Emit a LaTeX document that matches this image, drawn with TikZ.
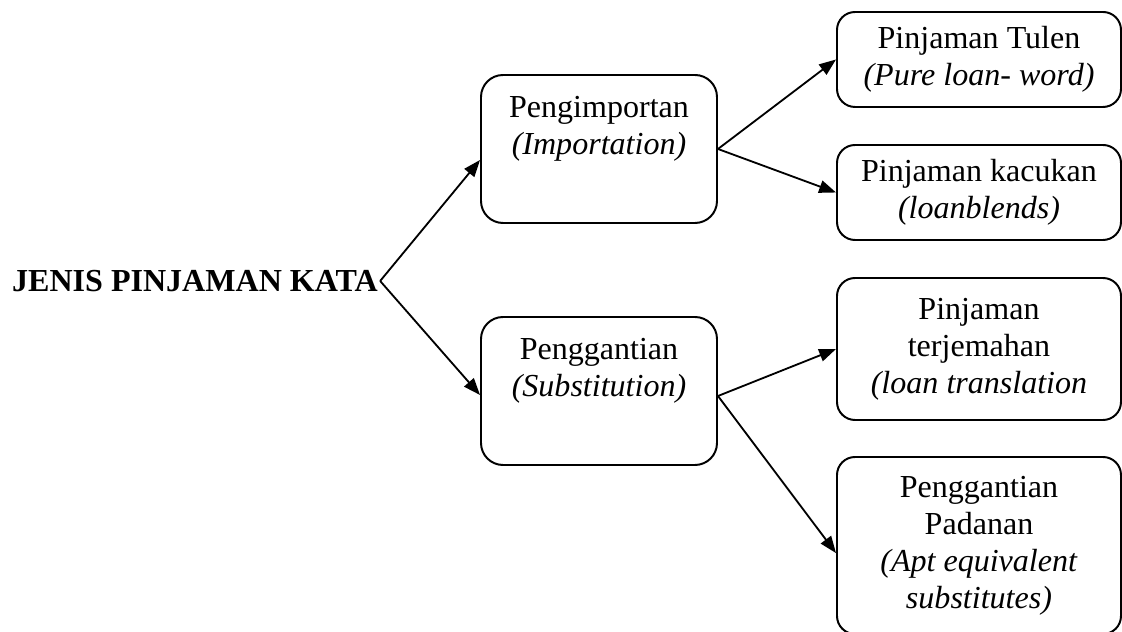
\documentclass[tikz,border=0pt]{standalone}
\usepackage{fontspec}
\setmainfont{Liberation Serif}
\usetikzlibrary{positioning,arrows.meta}

\tikzstyle{rootText} = [font=\fontsize{22.8}{26.3}\selectfont\bfseries, inner sep=1pt]
\tikzstyle{mainBox} = [rectangle, rounded corners=0.55cm, minimum width=5.9cm, minimum height=3.7cm, align=center, draw=black, line width=1.4pt, font=\fontsize{22.8}{26.3}\selectfont]
\tikzstyle{subBox} = [rectangle, rounded corners=0.45cm, minimum width=7.1cm, align=center, draw=black, line width=1.4pt, font=\fontsize{22.8}{26.3}\selectfont]

\begin{document}
\begin{tikzpicture}[node distance=2cm, >={Triangle[length=12pt,width=9pt]}, line width=1.3pt]

	\useasboundingbox (0,0) rectangle (28.05,15.8);

	\node (jenis) [rootText] at (4.875,8.775) {JENIS PINJAMAN KATA};
	\node (impor) [mainBox, right of=jenis, node distance=10.1cm, yshift=3.3cm] {Pengimportan\\\textit{(Importation)}\\\strut};
	\node (ganti) [mainBox, below of=impor, node distance=6.05cm] {Penggantian\\\textit{(Substitution)}\\\strut};

	\node (tulen) [subBox, minimum height=2.375cm, right of=impor, node distance=9.5cm, yshift=2.2375cm] {Pinjaman Tulen\\\textit{(Pure loan- word)}};
	\node (kacukan) [subBox, minimum height=2.375cm, below of=tulen, node distance=3.325cm] {Pinjaman kacukan\\\textit{(loanblends)}};
	\node (terjemahan) [subBox, minimum height=3.55cm, below of=kacukan, node distance=3.9125cm] {Pinjaman\\terjemahan\\\textit{(loan translation}};
	\node (padanan) [subBox, minimum height=4.425cm, below of=terjemahan, node distance=4.9125cm] {Penggantian\\Padanan\\\textit{(Apt equivalent}\\\textit{substitutes)}};

	\draw [->] (jenis.east) -- ([yshift=-0.275cm]impor.west);
	\draw [->] (jenis.east) -- ([yshift=-0.1cm]ganti.west);
	\draw [->] (impor.east) -- (tulen.west);
	\draw [->] (impor.east) -- (kacukan.west);
	\draw [->] ([yshift=-0.125cm]ganti.east) -- (terjemahan.west);
	\draw [->] ([yshift=-0.125cm]ganti.east) -- ([yshift=-0.19cm]padanan.west);

\end{tikzpicture}
\end{document}
